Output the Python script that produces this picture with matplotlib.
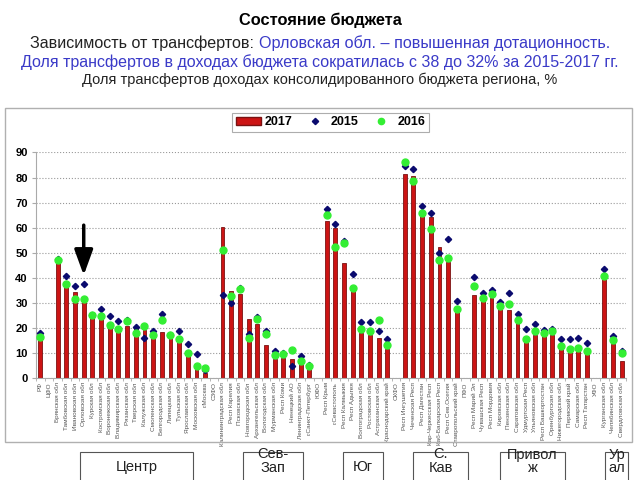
import numpy as np
import matplotlib
matplotlib.use("Agg")
import matplotlib.pyplot as plt
from matplotlib.patches import Rectangle, Patch
from matplotlib.lines import Line2D

plt.rcParams['font.family'] = ['Liberation Sans', 'DejaVu Sans']

nan = np.nan
categories = ["РФ", "ЦФО", "Брянская обл", "Тамбовская обл", "Ивановская обл", "Орловская обл",
              "Курская обл", "Костромская обл", "Воронежская обл", "Владимирская обл", "Рязанская обл",
              "Тверская обл", "Калужская обл", "Смоленская обл", "Белгородская обл", "Липецкая обл",
              "Тульская обл", "Ярославская обл", "Московская обл", "г.Москва", "СЗФО",
              "Калининградская обл", "Респ Карелия", "Псковская обл", "Новгородская обл",
              "Архангельская обл", "Вологодская обл", "Мурманская обл", "Респ Коми", "Ненецкий АО",
              "Ленинградская обл", "г.Санкт-Петербург", "ЮФО", "Респ Крым", "г.Севастополь",
              "Респ Калмыкия", "Респ Адыгея", "Волгоградская обл", "Ростовская обл",
              "Астраханская обл", "Краснодарский край", "СКФО", "Респ Ингушетия", "Чеченская Респ",
              "Респ Дагестан", "Кар-Черкесская Респ", "Каб-Балкарская Респ", "Респ Сев.Осетия",
              "Ставропольский край", "ПФО", "Респ Марий Эл", "Чувашская Респ", "Респ Мордовия",
              "Кировская обл", "Пензенская обл", "Саратовская обл", "Удмуртская Респ",
              "Ульяновская обл", "Респ Башкортостан", "Оренбургская обл", "Нижегородская обл",
              "Пермский край", "Самарская обл", "Респ Татарстан", "УФО", "Курганская обл",
              "Челябинская обл", "Свердловская обл"]

v2017 = [15.5, nan, 46.4, 37, 34.3, 31.5, 25, 24.5, 20.4, 19, 20.8, 20, 19.3, 16.4, 18.3, 16.4,
         14.7, 8.7, 4, 2.1, nan, 60.1, 34.8, 33.5, 23.6, 21.5, 13.3, 7.7, 8, 7.7, 5.7, 3.7, nan,
         62.8, 59.7, 46, 35, 18, 17, 15.9, 11.5, nan, 81.5, 80.5, 64.7, 64.4, 52.1, 46.4, 27, nan,
         33.3, 30.8, 31.9, 30, 27.3, 22, 15, 17, 16.7, 17, 11.5, 10.4, 10.7, 9.5, nan, 39.7, 13.7, 6.9]
v2015 = [18, nan, 47.5, 40.7, 36.7, 37.7, 25.2, 27.7, 24.7, 22.7, 23.3, 20.2, 16.1, 18.8, 25.6, 17,
         18.7, 13.5, 9.7, 3, nan, 33.3, 30.1, 35.8, 17.7, 24.4, 18.8, 10.7, 9.8, 4.7, 8.7, 5.1, nan,
         67.3, 61.5, 54.5, 41.7, 22.4, 22.4, 18.8, 15.5, nan, 84.7, 83.3, 68.7, 65.7, 50, 55.5, 30.8, nan,
         40.4, 34.1, 35.1, 30.4, 34.1, 25.7, 19.7, 21.7, 19.3, 19.7, 15.5, 15.7, 16.1, 14, nan, 43.5, 16.7, 10.8]
v2016 = [16.4, nan, 47, 37.7, 31.6, 31.6, 25, 24.8, 21.3, 19.7, 22.7, 18, 20.7, 17.3, 23.3, 17.3,
         15.7, 10.1, 4.9, 4, nan, 51, 32.7, 35.5, 15.9, 23.5, 17.7, 9.3, 9.7, 11.3, 6.9, 4.8, nan,
         65, 52.4, 53.7, 36, 19.5, 18.7, 23, 13, nan, 86.1, 78.8, 66, 59.3, 47, 47.7, 27.7, nan,
         36.8, 32.1, 33.5, 28.8, 29.7, 23, 15.7, 18.7, 18, 18.7, 12.8, 11.7, 12.1, 10.7, nan, 40.7, 15, 9.9]

yticks = [0, 10, 20, 30, 40, 50, 60, 70, 80, 90]
districts = ["Центр", "Сев-\nЗап", "Юг", "С.\nКав", "Привол\nж", "Ур\nал"]

W, H = 640, 480
fig = plt.figure(figsize=(6.4, 4.8), dpi=100)

def fx(px):
    return px / W

def fy(py):
    return 1 - py / H

# outer frame of chart
fig.patches.append(Rectangle((fx(5), fy(442)), fx(627), (442 - 108) / H, transform=fig.transFigure,
                             fill=False, edgecolor='#b0b0b0', linewidth=1.0))

ax = fig.add_axes([fx(36), fy(378), fx(590), (378 - 152.5) / H])
x = np.arange(len(categories))
ax.bar(x, v2017, width=0.45, color='#cc1414', edgecolor='#7a1212', linewidth=0.6, label='2017', zorder=2)
ax.plot(x, v2015, linestyle='none', marker='D', markersize=3.2, color='#0a0a6e', label='2015', zorder=3)
ax.plot(x, v2016, linestyle='none', marker='o', markersize=5, color='#33ee33', label='2016', zorder=4)

ax.set_xlim(-0.5, len(categories) - 0.5)
ax.set_ylim(0, 90)
ax.set_yticks(yticks)
ax.set_yticklabels([str(t) for t in yticks], fontsize=8, fontweight='bold')
ax.yaxis.grid(True, linestyle=':', color='#999999', linewidth=0.8)
ax.set_axisbelow(True)
ax.set_xticks(x)
ax.set_xticklabels(categories, rotation=90, fontsize=4.6, color='#555555')
ax.tick_params(axis='x', length=0, pad=3)
ax.set_xticks(np.arange(-0.5, len(categories), 1), minor=True)
ax.tick_params(axis='x', which='minor', length=2, color='#aaaaaa')
ax.tick_params(axis='y', length=3, color='#aaaaaa', pad=3)
for s in ['top', 'right']:
    ax.spines[s].set_visible(False)
for s in ['left', 'bottom']:
    ax.spines[s].set_color('#aaaaaa')

# arrow pointing at Orel region
ax.annotate('', xy=(5, 41), xytext=(5, 61),
            arrowprops=dict(arrowstyle='-|>,head_width=0.4,head_length=1.1', lw=2.5,
                            color='black', mutation_scale=14, shrinkA=0, shrinkB=0), zorder=5)

handles = [Patch(facecolor='#cc1414', edgecolor='#7a1212'),
           Line2D([], [], linestyle='none', marker='D', markersize=3.2, color='#0a0a6e'),
           Line2D([], [], linestyle='none', marker='o', markersize=4.5, color='#33ee33')]
leg = fig.legend(handles, ['2017', '2015', '2016'], loc='center', ncol=3,
                 bbox_to_anchor=(fx(330.5), fy(122.5)), fancybox=False, frameon=True,
                 prop={'size': 9, 'weight': 'bold'}, handlelength=2.0, handleheight=0.6,
                 columnspacing=0.8, borderpad=0.3, handletextpad=0.3, borderaxespad=0)
leg.get_frame().set_edgecolor('#999999')
leg.get_frame().set_linewidth(0.8)

# titles
fig.text(0.5, fy(20), "Состояние бюджета", ha='center', va='center', fontsize=11.8, fontweight='bold')
blue = '#3a3ac8'
renderer = fig.canvas.get_renderer()
t1 = fig.text(0, fy(43), "Зависимость от трансфертов: ", ha='left', va='center', fontsize=11.6, color='#222222')
t2 = fig.text(0, fy(43), "Орловская обл. – повышенная дотационность.", ha='left', va='center',
              fontsize=11.6, color=blue)
w1 = t1.get_window_extent(renderer).width
w2 = t2.get_window_extent(renderer).width
start = (W - (w1 + w2)) / 2
t1.set_x(start / W)
t2.set_x((start + w1) / W)
fig.text(0.5, fy(62), "Доля трансфертов в доходах бюджета сократилась с 38 до 32% за 2015-2017 гг.",
         ha='center', va='center', fontsize=11.5, color=blue)
fig.text(0.5, fy(80), "Доля трансфертов доходах консолидированного бюджета региона, %",
         ha='center', va='center', fontsize=10.5, color='#222222')

# district boxes at bottom
boxes = [(80, 193), (243, 303), (343, 383), (413, 468), (500, 565), (605, 628)]
for (x0, x1), name in zip(boxes, districts):
    fig.patches.append(Rectangle((fx(x0), fy(490)), fx(x1 - x0), (490 - 452) / H,
                                 transform=fig.transFigure, fill=False, edgecolor='#555555',
                                 linewidth=0.8))
    cy = 467 if '\n' not in name else 461.5
    fig.text(fx((x0 + x1) / 2), fy(cy), name, ha='center', va='center', fontsize=10.5,
             color='#222222', linespacing=1.0)

fig.savefig('out.png', dpi=100)
